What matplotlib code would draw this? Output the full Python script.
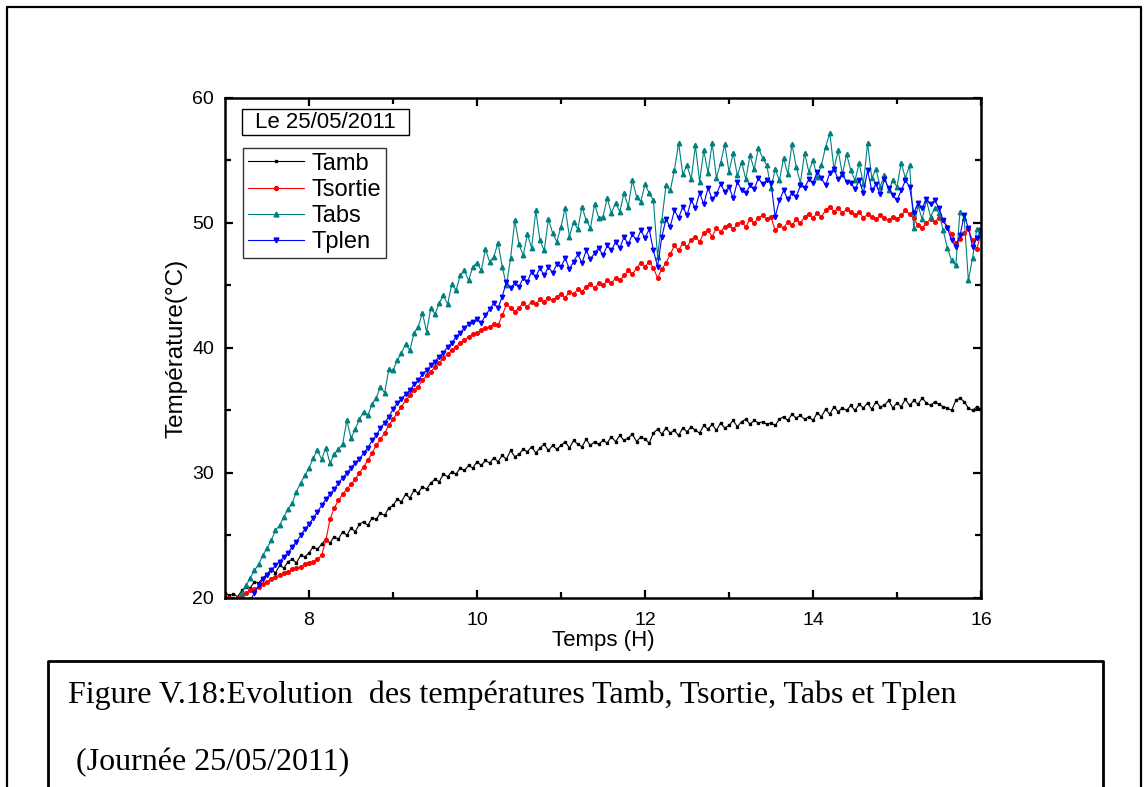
import numpy as np
import matplotlib.pyplot as plt
from matplotlib.lines import Line2D
from matplotlib.patches import Rectangle

plt.rcParams['font.family'] = ['Liberation Sans', 'DejaVu Sans']

# time axis, one reading every 3 minutes (0.05 h) from 7 h to 16 h
temps = np.linspace(7.0, 16.0, 181)

tamb = [
    20.4, 20.2, 20.3, 20.1, 20.6, 20.9, 20.8, 21.3, 21.2, 21.6,
    21.9, 22.3, 22.0, 22.6, 22.4, 22.9, 23.1, 22.8, 23.4, 23.3,
    23.6, 24.1, 23.9, 24.3, 24.7, 24.4, 24.9, 24.7, 25.3, 25.0,
    25.6, 25.3, 25.9, 26.1, 25.8, 26.4, 26.3, 26.8, 26.6, 27.2,
    27.4, 27.9, 27.7, 28.3, 28.0, 28.6, 28.4, 28.9, 28.7, 29.2,
    29.5, 29.3, 29.9, 29.7, 30.1, 29.9, 30.4, 30.2, 30.6, 30.4,
    30.9, 30.6, 31.0, 30.8, 31.2, 30.9, 31.4, 31.1, 31.8, 31.3,
    31.5, 31.9, 31.7, 32.1, 31.6, 32.0, 32.3, 31.8, 32.2, 31.9,
    32.2, 32.5, 32.0, 32.6, 32.3, 32.1, 32.7, 32.2, 32.5, 32.3,
    32.6, 32.4, 32.9, 32.5, 33.0, 32.6, 32.8, 33.1, 32.5, 32.9,
    32.7, 32.4, 33.2, 33.5, 33.1, 33.6, 33.2, 33.4, 33.0, 33.6,
    33.3, 33.7, 33.4, 33.2, 33.8, 33.5, 33.9, 33.4, 34.0, 33.6,
    33.8, 34.2, 33.7, 34.1, 34.3, 33.9, 34.2, 34.0, 34.1, 33.9,
    34.0, 33.8, 34.3, 34.5, 34.2, 34.7, 34.4, 34.6, 34.3, 34.5,
    34.2, 34.8, 34.5, 35.1, 34.7, 35.3, 34.9, 35.2, 35.0, 35.4,
    35.0, 35.5, 35.2, 35.6, 35.1, 35.7, 35.3, 35.4, 35.8, 35.2,
    35.6, 35.3, 35.9, 35.4, 35.8, 35.5, 36.0, 35.6, 35.4, 35.7,
    35.5, 35.3, 35.2, 35.0, 35.8, 36.0, 35.7, 35.2, 35.0, 35.3,
    35.1,
]

tsortie = [
    20.1, 20.0, 19.9, 20.0, 20.2, 20.4, 20.6, 20.7, 20.9, 21.1,
    21.3, 21.5, 21.7, 21.8, 22.0, 22.1, 22.3, 22.4, 22.5, 22.7,
    22.8, 22.9, 23.1, 23.4, 24.6, 26.3, 27.2, 27.8, 28.3, 28.7,
    29.1, 29.5, 30.0, 30.5, 31.0, 31.6, 32.2, 32.7, 33.2, 33.8,
    34.3, 34.8, 35.3, 35.8, 36.2, 36.6, 36.9, 37.4, 37.8, 38.1,
    38.5, 38.8, 39.2, 39.5, 39.8, 40.1, 40.4, 40.6, 40.9, 41.1,
    41.2, 41.4, 41.6, 41.7, 41.9, 41.8, 42.6, 43.5, 43.2, 42.9,
    43.2, 43.6, 43.3, 43.7, 43.5, 43.9, 43.7, 44.0, 43.8, 44.1,
    44.3, 44.0, 44.5, 44.3, 44.7, 44.5, 44.9, 45.1, 44.8, 45.2,
    45.0, 45.4, 45.2, 45.6, 45.4, 45.8, 46.2, 45.9, 46.4, 46.8,
    46.5, 46.9, 46.4, 45.6, 46.3, 46.8, 47.5, 48.2, 47.8, 48.4,
    48.1, 48.6, 48.9, 48.5, 49.2, 49.4, 48.9, 49.6, 49.3, 49.7,
    49.8, 49.5, 49.9, 50.1, 49.7, 50.3, 50.0, 50.4, 50.6, 50.3,
    50.5, 49.4, 49.8, 49.6, 50.1, 49.8, 50.3, 50.0, 50.5, 50.7,
    50.4, 50.8, 50.5, 51.0, 51.3, 50.9, 51.2, 50.8, 51.1, 50.9,
    50.6, 50.9, 50.4, 50.7, 50.5, 50.3, 50.6, 50.4, 50.2, 50.5,
    50.3, 50.6, 51.0, 50.7, 50.4, 49.8, 49.6, 50.0, 50.3, 50.1,
    50.4, 50.2, 49.7, 49.1, 48.4, 48.7, 49.2, 49.5, 48.6, 47.9,
    49.2,
]

tabs = [
    18.0, 18.6, 19.2, 19.9, 20.4, 21.0, 21.6, 22.2, 22.7, 23.4,
    24.0, 24.6, 25.4, 25.8, 26.5, 27.1, 27.6, 28.5, 29.2, 29.8,
    30.4, 31.2, 31.8, 31.1, 32.0, 30.8, 31.5, 31.9, 32.3, 34.2,
    32.8, 33.5, 34.3, 34.9, 34.6, 35.5, 36.0, 36.9, 36.4, 38.3,
    38.2, 39.0, 39.6, 40.3, 39.8, 41.2, 41.7, 42.8, 41.3, 43.2,
    42.7, 43.6, 44.2, 43.5, 45.1, 44.6, 45.8, 46.2, 45.4, 46.5,
    46.8, 46.2, 47.9, 46.9, 47.3, 48.4, 46.5, 45.0, 47.2, 50.2,
    48.3, 47.4, 49.1, 48.0, 51.0, 48.6, 47.8, 50.3, 49.2, 48.5,
    49.7, 51.2, 48.9, 50.1, 49.5, 51.3, 50.2, 49.6, 51.5, 50.4,
    50.5, 52.0, 50.8, 51.6, 50.9, 52.4, 51.3, 53.4, 52.1, 51.7,
    53.1, 52.4, 51.8, 47.3, 50.2, 53.0, 52.6, 54.2, 56.4, 53.9,
    54.6, 53.5, 56.2, 53.3, 55.8, 54.0, 56.4, 53.6, 54.8, 56.3,
    54.1, 55.6, 53.8, 54.9, 53.5, 55.4, 54.3, 56.0, 55.2, 54.6,
    52.8, 54.3, 53.4, 55.2, 53.9, 56.3, 54.5, 53.2, 55.6, 54.1,
    55.0, 53.7, 54.6, 56.1, 57.2, 54.3, 55.8, 53.9, 55.5, 54.2,
    53.4, 54.8, 53.1, 56.4, 53.6, 54.3, 52.9, 53.8, 52.6, 53.4,
    52.9, 54.8, 53.6, 54.6, 49.6, 51.4, 50.3, 51.8, 50.5, 51.2,
    50.8, 49.4, 48.0, 47.0, 46.6, 50.9, 50.4, 45.4, 47.2, 49.5,
    49.0,
]

tplen = [
    16.0, 16.7, 17.4, 18.1, 18.7, 19.3, 19.8, 20.4, 21.0, 21.5,
    21.8, 22.2, 22.6, 22.9, 23.3, 23.6, 24.1, 24.5, 25.0, 25.5,
    25.9, 26.4, 26.9, 27.4, 27.9, 28.3, 28.7, 29.2, 29.6, 30.0,
    30.4, 30.8, 31.1, 31.6, 32.0, 32.6, 33.0, 33.6, 34.0, 34.5,
    35.1, 35.6, 35.9, 36.3, 36.6, 37.1, 37.4, 37.9, 38.2, 38.6,
    38.9, 39.3, 39.6, 40.1, 40.4, 40.9, 41.2, 41.6, 41.9, 42.1,
    42.3, 42.0, 42.6, 43.1, 43.6, 43.2, 44.1, 45.3, 44.8, 45.2,
    44.9, 45.6, 45.3, 46.1, 45.7, 46.4, 45.8, 46.5, 46.0, 46.7,
    46.5, 47.2, 46.3, 46.9, 47.5, 46.8, 47.8, 47.1, 47.6, 48.0,
    47.4, 48.2, 47.8, 48.5, 48.0, 48.9, 48.3, 49.1, 48.6, 49.4,
    48.8, 49.5, 47.8, 46.5, 48.9, 50.3, 49.7, 51.0, 50.4, 51.3,
    50.6, 51.8, 51.2, 52.4, 51.5, 52.8, 51.9, 52.3, 53.1, 52.5,
    52.9, 52.0, 53.3, 52.6, 52.4, 53.0, 52.7, 53.6, 53.1, 53.4,
    53.2, 50.5, 51.8, 52.6, 51.9, 52.4, 52.1, 53.0, 52.8, 53.5,
    53.2, 54.1, 53.6, 53.0, 54.0, 54.3, 53.5, 53.9, 53.3, 53.2,
    52.7, 53.4, 52.4, 54.2, 52.6, 53.1, 52.3, 53.5, 52.8, 52.2,
    51.8, 52.6, 53.4, 52.9, 50.8, 51.6, 51.2, 51.9, 51.5, 51.8,
    51.2, 50.2, 49.6, 48.6, 48.1, 49.0, 50.6, 49.6, 48.1, 48.8,
    49.4,
]

fig = plt.figure(figsize=(11.44, 7.87), dpi=100)
ax = fig.add_axes([0.1967, 0.2402, 0.6608, 0.6353])

ax.plot(temps, tamb, color='black', marker='s', ms=1.8, lw=0.8, label='Tamb')
ax.plot(temps, tsortie, color='red', marker='o', ms=2.6, lw=0.8, label='Tsortie')
ax.plot(temps, tabs, color='#008080', marker='^', ms=3.2, lw=0.8, label='Tabs')
ax.plot(temps, tplen, color='blue', marker='v', ms=3.2, lw=0.8, label='Tplen')

ax.set_xlim(7, 16)
ax.set_ylim(20, 60)
ax.set_xticks([8, 10, 12, 14, 16])
ax.set_xticks([9, 11, 13, 15], minor=True)
ax.set_yticks([20, 30, 40, 50, 60])
ax.set_yticks([25, 35, 45, 55], minor=True)
ax.tick_params(which='both', direction='in', top=True, right=True, width=1.6,
               labelsize=14, pad=8)
ax.tick_params(axis='x', pad=10)
ax.tick_params(which='major', length=6)
ax.tick_params(which='minor', length=4)
for s in ax.spines.values():
    s.set_linewidth(1.8)

ax.set_xlabel('Temps (H)', fontsize=16, labelpad=1)
ax.set_ylabel('Température(°C)', fontsize=17.5, labelpad=3)

leg = ax.legend(loc='upper left', bbox_to_anchor=(0.0238, 0.90), borderaxespad=0,
                fontsize=17, frameon=True, fancybox=False, handlelength=2.4,
                handletextpad=0.3, labelspacing=0.18, borderpad=0.2, markerscale=1.1)
leg.get_frame().set_edgecolor('black')
leg.get_frame().set_linewidth(1.0)

# date box
ax.add_patch(Rectangle((0.0225, 0.926), 0.221, 0.052, transform=ax.transAxes,
                       fill=False, edgecolor='black', lw=1.0))
ax.text(0.133, 0.951, 'Le 25/05/2011', transform=ax.transAxes, ha='center',
        va='center', fontsize=16)

# page frame and caption box
W, H = 1144, 787
def fline(xs, ys, lw):
    fig.add_artist(Line2D([x / W for x in xs], [1 - y / H for y in ys],
                          transform=fig.transFigure, color='black', lw=lw))

fline([7, 7, 1141, 1141], [800, 7, 7, 800], 1.6)
fline([48, 48, 1103, 1103], [800, 661, 661, 800], 2.0)

fig.text(68 / W, 1 - 703 / H, 'Figure V.18:Evolution  des températures Tamb, Tsortie, Tabs et Tplen',
         family='Liberation Serif', fontsize=23, va='baseline')
fig.text(68 / W, 1 - 770 / H, ' (Journée 25/05/2011)',
         family='Liberation Serif', fontsize=23, va='baseline')

fig.savefig('out.png', dpi=100)
